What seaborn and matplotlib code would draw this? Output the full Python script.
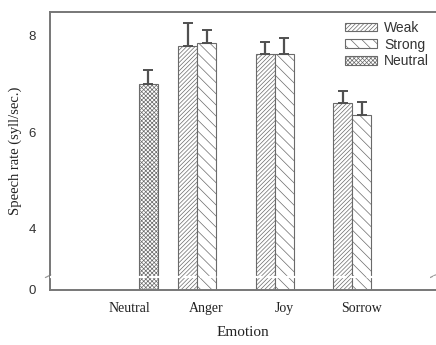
import matplotlib
matplotlib.use("Agg")
import matplotlib.pyplot as plt
import numpy as np
import pandas as pd
import seaborn as sns

# data
emotions = ["Neutral", "Anger", "Joy", "Sorrow"]
intensities = ["Weak", "Strong", "Neutral"]
bar_emotion = ["Neutral", "Anger", "Anger", "Joy", "Joy", "Sorrow", "Sorrow"]
bar_intensity = ["Neutral", "Weak", "Strong", "Weak", "Strong", "Weak", "Strong"]
bar_rate = [7.0, 7.79, 7.85, 7.62, 7.62, 6.60, 6.35]
bar_err = [0.29, 0.47, 0.27, 0.24, 0.33, 0.25, 0.28]
y_ticks = [0, 4, 6, 8]

df = pd.DataFrame({"Emotion": bar_emotion, "Intensity": bar_intensity,
                   "Rate": bar_rate, "Err": bar_err})

# broken axis: 0..3 squeezed into a short strip under the break
BREAK = 3.0
SQUEEZE = 0.256 / 3.0


def fwd(y):
    y = np.asarray(y, dtype=float)
    return np.where(y >= BREAK, y, BREAK - (BREAK - y) * SQUEEZE)


def inv(y):
    y = np.asarray(y, dtype=float)
    return np.where(y >= BREAK, y, BREAK - (BREAK - y) / SQUEEZE)


sns.set_style("white")
plt.rcParams["hatch.linewidth"] = 0.5
edge = "#6a6a6a"
plt.rcParams["hatch.color"] = edge

fig = plt.figure(figsize=(4.36, 3.45), dpi=100)
ax = fig.add_axes([0.1147, 0.1603, 0.8853, 0.8049])

sns.barplot(data=df, x="Emotion", y="Rate", hue="Intensity",
            order=emotions, hue_order=intensities, dodge=True,
            width=0.735, errorbar=None,
            palette={"Weak": "white", "Strong": "white", "Neutral": "white"},
            edgecolor=edge, linewidth=0.8, ax=ax)

hatches = {"Weak": "////////", "Strong": "\\\\\\", "Neutral": "xxxxxxxx"}
for cont, level in zip(ax.containers, intensities):
    for bar in cont:
        bar.set_hatch(hatches[level])
        bar.set_edgecolor(edge)

# upper-only error bars, placed on the drawn bars
for cont, level in zip(ax.containers, intensities):
    sub = df[df["Intensity"] == level]
    for bar in cont:
        h = bar.get_height()
        if np.isnan(h):
            continue
        row = sub[np.isclose(sub["Rate"], h)].iloc[0]
        xc = bar.get_x() + bar.get_width() / 2
        ax.errorbar(xc, row["Rate"], yerr=[[0], [row["Err"]]], fmt="none",
                    ecolor="#505050", elinewidth=1.6, capsize=3.5,
                    capthick=1.4, zorder=1)

ax.set_yscale("function", functions=(fwd, inv))
ax.set_ylim(0, 8.49)
ax.set_yticks(y_ticks)
ax.set_xlim(-1.02, 3.96)

# white gap through bars at the break, plus small break marks
ax.axhline(BREAK, color="white", lw=1.6, ls=(0, (6, 1.5)), zorder=5)
for x0 in (-0.012, 0.985):
    ax.plot([x0, x0 + 0.014], [BREAK - 0.05, BREAK + 0.05], color="#9a9a9a",
            lw=0.9, transform=ax.get_yaxis_transform(), clip_on=False)

for side in ["left", "bottom", "top"]:
    ax.spines[side].set_color("#777777")
    ax.spines[side].set_linewidth(1.4)
ax.spines["right"].set_visible(False)

ax.tick_params(axis="y", direction="out", length=4, width=1, color="#777777",
               labelsize=9.5, labelcolor="#333333", pad=6)
ax.tick_params(axis="x", length=0, pad=9)
for lbl in ax.get_yticklabels():
    lbl.set_family("Liberation Sans")
for lbl in ax.get_xticklabels():
    lbl.set_family("Liberation Serif")
    lbl.set_fontsize(10)
    lbl.set_color("#222222")

ax.set_xlabel("Emotion", family="Liberation Serif", fontsize=11,
              color="#222222", labelpad=8)
ax.set_ylabel("Speech rate (syll/sec.)", family="Liberation Serif",
              fontsize=10.5, color="#222222", labelpad=5)

leg = ax.legend(loc="upper right", bbox_to_anchor=(1.015, 1.013), frameon=False,
                handlelength=2.3, handleheight=0.6, labelspacing=0.2,
                handletextpad=0.5, prop={"family": "Liberation Sans", "size": 10})
for patch, level in zip(leg.get_patches(), intensities):
    patch.set_hatch(hatches[level])
    patch.set_edgecolor(edge)
for t in leg.get_texts():
    t.set_color("#333333")

fig.savefig("out.png", dpi=100)
